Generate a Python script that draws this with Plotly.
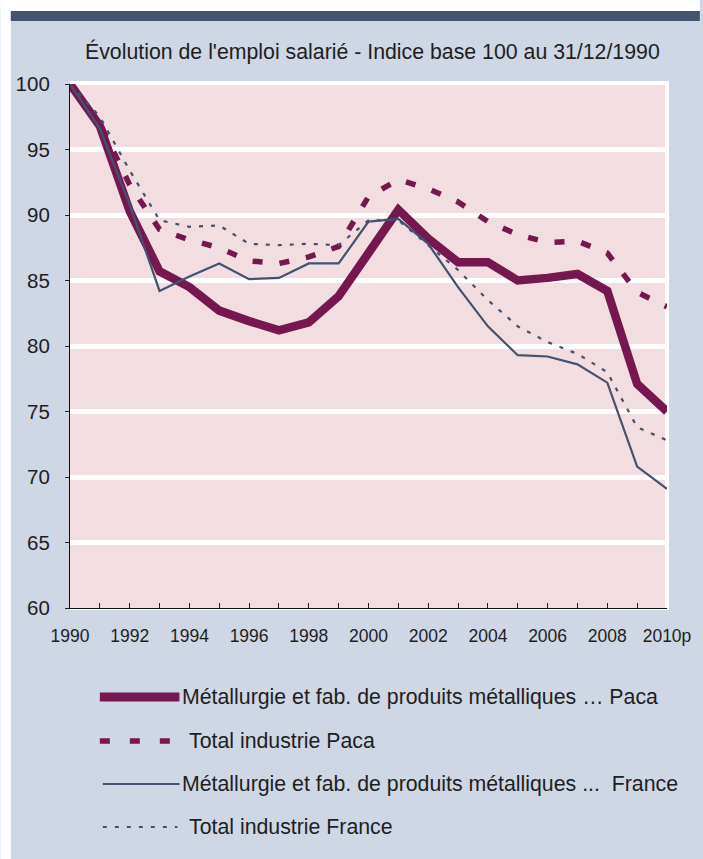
import plotly.graph_objects as go

# Employment index, base 100 at 31/12/1990
years = list(range(1990, 2011))
tick_labels = ["1990", "", "1992", "", "1994", "", "1996", "", "1998", "", "2000", "",
               "2002", "", "2004", "", "2006", "", "2008", "", "2010p"]

metal_paca = [100, 96.8, 90.3, 85.7, 84.5, 82.7, 81.9, 81.2, 81.8, 83.8, 87.1,
              90.4, 88.2, 86.4, 86.4, 85.0, 85.2, 85.5, 84.2, 77.1, 75.0]
industrie_paca = [100, 97.0, 92.3, 88.9, 88.1, 87.5, 86.5, 86.3, 86.8, 87.6, 91.4,
                  92.7, 92.0, 91.0, 89.5, 88.5, 87.9, 88.0, 87.1, 84.1, 83.0]
metal_france = [100, 96.6, 90.8, 84.2, 85.3, 86.3, 85.1, 85.2, 86.3, 86.3, 89.5,
                89.7, 87.8, 84.5, 81.5, 79.3, 79.2, 78.6, 77.2, 70.8, 69.1]
industrie_france = [100, 97.5, 93.4, 89.6, 89.1, 89.2, 87.8, 87.7, 87.8, 87.7, 89.6,
                    89.6, 87.7, 85.8, 83.5, 81.5, 80.3, 79.4, 78.0, 73.8, 72.8]

series_names = [
    "Métallurgie et fab. de produits métalliques … Paca",
    "Total industrie Paca",
    "Métallurgie et fab. de produits métalliques ...  France",
    "Total industrie France",
]

PLUM = "#75184F"
SLATE = "#43526F"
PANEL = "#CFD6E4"
PINK = "#F2DDE0"
INK = "#1E1E1E"
FONT = "Liberation Sans, Arial, sans-serif"

W, H = 703, 859
L, R, T, B = 70, 33, 84, 251
PW, PH = W - L - R, H - T - B


def px(xp):
    return (xp - L) / PW


def py(yp):
    return (H - B - yp) / PH


styles = [
    dict(color=PLUM, width=8.5, dash="solid"),
    dict(color=PLUM, width=5.5, dash="10px,17px"),
    dict(color=SLATE, width=2.2, dash="solid"),
    dict(color=SLATE, width=2.2, dash="4px,8px"),
]
legend_styles = [
    dict(color=PLUM, width=9, dash="solid"),
    dict(color=PLUM, width=5.5, dash="10px,20px"),
    dict(color=SLATE, width=2.2, dash="solid"),
    dict(color=SLATE, width=2.2, dash="4px,8px"),
]
data = [metal_paca, industrie_paca, metal_france, industrie_france]

fig = go.Figure()
for name, vals, st in zip(series_names, data, styles):
    fig.add_trace(go.Scatter(
        x=years, y=vals, mode="lines", name=name,
        line=dict(color=st["color"], width=st["width"], dash=st["dash"]),
        cliponaxis=False, showlegend=False,
    ))

shapes = [
    # white strip on the left and across the top, dark header bar
    dict(type="rect", xref="paper", yref="paper", x0=px(0), x1=px(10.5), y0=py(H), y1=py(0),
         fillcolor="white", line_width=0, layer="below"),
    dict(type="rect", xref="paper", yref="paper", x0=px(0), x1=px(W), y0=py(11), y1=py(0),
         fillcolor="white", line_width=0, layer="below"),
    dict(type="rect", xref="paper", yref="paper", x0=px(10.5), x1=px(W), y0=py(21), y1=py(11),
         fillcolor="#44546F", line_width=0, layer="below"),
    # framed plotting area
    dict(type="rect", xref="paper", yref="paper", x0=0, x1=px(672), y0=py(610), y1=py(81),
         fillcolor="white", line_width=0, layer="below"),
    dict(type="rect", xref="paper", yref="paper", x0=0, x1=px(668), y0=0, y1=py(85),
         fillcolor=PINK, line_width=0, layer="below"),
]

annotations = [
    dict(text="Évolution de l'emploi salarié - Indice base 100 au 31/12/1990",
         xref="paper", yref="paper", x=px(374), y=py(52), xanchor="center", yanchor="middle",
         showarrow=False, font=dict(family=FONT, size=21.3, color=INK)),
]

# legend rows: sample line + label
legend_rows = [
    (697, 100, 180, 181),
    (741, 100, 176, 188),
    (784, 103, 180, 181),
    (827, 103, 178, 188),
]
for (yr, x0, x1, xt), name, st in zip(legend_rows, series_names, legend_styles):
    shapes.append(dict(type="line", xref="paper", yref="paper",
                       x0=px(x0), x1=px(x1), y0=py(yr), y1=py(yr),
                       line=dict(color=st["color"], width=st["width"], dash=st["dash"])))
    annotations.append(dict(text=name, xref="paper", yref="paper", x=px(xt), y=py(yr),
                            xanchor="left", yanchor="middle", showarrow=False,
                            font=dict(family=FONT, size=21.3, color=INK)))

fig.update_layout(
    width=W, height=H,
    margin=dict(l=L, r=R, t=T, b=B, pad=0),
    paper_bgcolor=PANEL, plot_bgcolor=PANEL,
    font=dict(family=FONT, color=INK),
    shapes=shapes, annotations=annotations,
    showlegend=False,
)
fig.update_xaxes(
    range=[1990, 2010], tickvals=years, ticktext=tick_labels,
    ticks="inside", ticklen=5, tickcolor="#222", tickwidth=1,
    showline=True, linecolor="#111", linewidth=1.2,
    showgrid=False, zeroline=False,
    tickfont=dict(family=FONT, size=17.5, color=INK),
    ticklabelstandoff=12,
)
fig.update_yaxes(
    range=[60, 100], dtick=5, tick0=60,
    ticks="outside", ticklen=4, tickcolor="#222", tickwidth=1,
    showline=True, linecolor="#111", linewidth=1.2,
    showgrid=True, gridcolor="white", gridwidth=4.5, zeroline=False,
    tickfont=dict(family=FONT, size=20.5, color=INK),
    ticklabelstandoff=11,
)

fig.write_html("out.html")
